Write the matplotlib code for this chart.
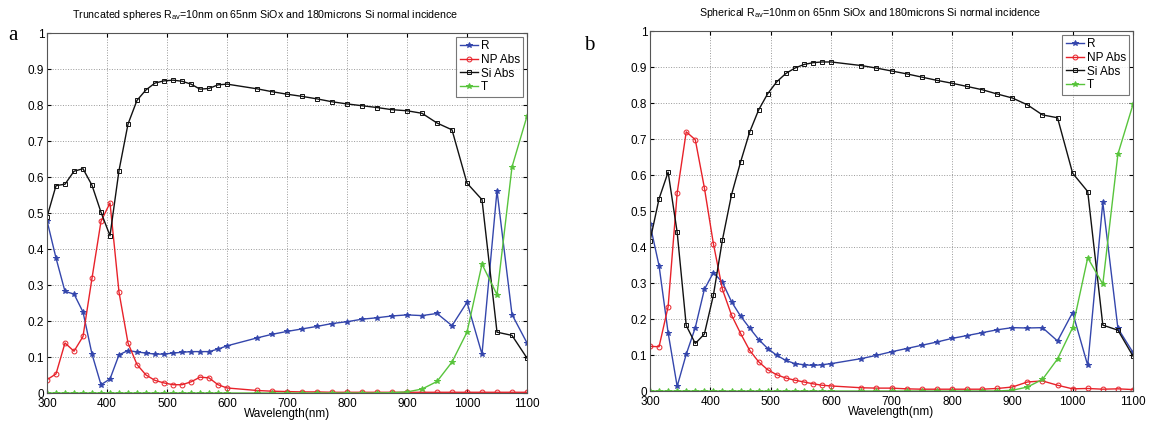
import numpy as np
import matplotlib
matplotlib.use("Agg")
import matplotlib.pyplot as plt

plt.rcParams['font.family'] = ['Liberation Sans', 'DejaVu Sans']
plt.rcParams['mathtext.default'] = 'regular'

# wavelength grid (nm): 15 nm steps up to 600, then 25 nm steps
wl = [300, 315, 330, 345, 360, 375, 390, 405, 420, 435, 450, 465, 480, 495, 510,
      525, 540, 555, 570, 585, 600, 650, 675, 700, 725, 750, 775, 800, 825, 850,
      875, 900, 925, 950, 975, 1000, 1025, 1050, 1075, 1100]

# panel a: truncated spheres
a_R = [0.479, 0.375, 0.282, 0.275, 0.225, 0.108, 0.023, 0.039, 0.106, 0.118, 0.114,
       0.111, 0.108, 0.108, 0.111, 0.113, 0.115, 0.115, 0.115, 0.122, 0.131, 0.153,
       0.163, 0.171, 0.178, 0.185, 0.193, 0.198, 0.205, 0.209, 0.214, 0.217, 0.215,
       0.221, 0.187, 0.252, 0.108, 0.562, 0.218, 0.139]
a_NP = [0.037, 0.053, 0.139, 0.116, 0.157, 0.319, 0.477, 0.528, 0.280, 0.139, 0.079,
        0.050, 0.035, 0.028, 0.023, 0.023, 0.031, 0.044, 0.042, 0.023, 0.014, 0.007,
        0.005, 0.004, 0.003, 0.003, 0.002, 0.002, 0.002, 0.002, 0.002, 0.002, 0.002,
        0.002, 0.002, 0.002, 0.002, 0.002, 0.002, 0.002]
a_Si = [0.489, 0.576, 0.580, 0.616, 0.623, 0.577, 0.502, 0.437, 0.618, 0.747, 0.813,
        0.842, 0.861, 0.867, 0.869, 0.866, 0.858, 0.844, 0.846, 0.856, 0.858, 0.845,
        0.837, 0.830, 0.824, 0.817, 0.809, 0.803, 0.798, 0.793, 0.787, 0.784, 0.777,
        0.750, 0.731, 0.583, 0.537, 0.169, 0.160, 0.097]
a_T = [0.0] * 30 + [0.001, 0.003, 0.011, 0.032, 0.086, 0.169, 0.358, 0.273, 0.628, 0.769]

# panel b: spherical
b_R = [0.463, 0.348, 0.162, 0.013, 0.102, 0.176, 0.282, 0.329, 0.302, 0.248, 0.208,
       0.175, 0.143, 0.118, 0.099, 0.085, 0.076, 0.073, 0.071, 0.073, 0.076, 0.090,
       0.099, 0.109, 0.118, 0.127, 0.136, 0.146, 0.154, 0.162, 0.170, 0.176, 0.175,
       0.176, 0.139, 0.218, 0.071, 0.524, 0.174, 0.107]
b_NP = [0.124, 0.123, 0.234, 0.550, 0.720, 0.698, 0.565, 0.409, 0.282, 0.211, 0.160,
        0.113, 0.081, 0.059, 0.045, 0.036, 0.030, 0.025, 0.020, 0.016, 0.014, 0.009,
        0.008, 0.008, 0.006, 0.005, 0.005, 0.005, 0.005, 0.005, 0.007, 0.011, 0.025,
        0.028, 0.016, 0.006, 0.007, 0.005, 0.006, 0.004]
b_Si = [0.417, 0.534, 0.608, 0.441, 0.182, 0.132, 0.158, 0.266, 0.420, 0.545, 0.636,
        0.719, 0.781, 0.826, 0.859, 0.882, 0.897, 0.907, 0.912, 0.914, 0.914, 0.904,
        0.897, 0.889, 0.881, 0.872, 0.863, 0.855, 0.846, 0.837, 0.825, 0.814, 0.795,
        0.767, 0.759, 0.605, 0.554, 0.183, 0.169, 0.097]
b_T = [0.0] * 31 + [0.002, 0.011, 0.032, 0.089, 0.176, 0.370, 0.297, 0.658, 0.796]

titles = [r'Truncated spheres R$_{av}$=10nm on 65nm SiOx and 180microns Si normal incidence',
          r'Spherical R$_{av}$=10nm on 65nm SiOx and 180microns Si normal incidence']
labels = ['R', 'NP Abs', 'Si Abs', 'T']
colors = ['#3446ac', '#e8222a', '#111111', '#58c43c']
markers = ['*', 'o', 's', '*']


def panel(ax, series, title):
    for y, lab, c, m in zip(series, labels, colors, markers):
        face = c if m == '*' else 'none'
        ax.plot(wl, y, color=c, marker=m, markersize=3.5 if m != '*' else 4,
                markerfacecolor=face, markeredgewidth=0.7, linewidth=1.0, label=lab)
    ax.set_xlim(300, 1100)
    ax.set_ylim(0, 1)
    ax.set_xticks(range(300, 1101, 100))
    ax.set_yticks(np.arange(0, 1.01, 0.1))
    ax.set_yticklabels(['0'] + ['%.1f' % v for v in np.arange(0.1, 0.95, 0.1)] + ['1'])
    ax.grid(True, linestyle=':', color='#999999', linewidth=0.7)
    ax.tick_params(direction='in', top=True, right=True, labelsize=8.5, length=3, pad=2)
    ax.tick_params(axis='x', pad=3.5)
    for s in ax.spines.values():
        s.set_color('#555555')
        s.set_linewidth(0.8)
    # matlab put the title a bit left of centre
    ax.set_title(title, fontsize=7.7, pad=11, x=0.455)
    ax.set_xlabel('Wavelength(nm)', fontsize=8.5, labelpad=-1)
    leg = ax.legend(loc='upper right', fontsize=8.5, handlelength=1.6, borderpad=0.3,
                    labelspacing=0.15, handletextpad=0.2, fancybox=False,
                    borderaxespad=0.3)
    leg.get_frame().set_edgecolor('#555555')
    leg.get_frame().set_linewidth(0.8)


fig = plt.figure(figsize=(11.51, 4.23), dpi=100)
ax1 = fig.add_axes([47 / 1151, 30 / 423, 480 / 1151, 360 / 423])
ax2 = fig.add_axes([650 / 1151, 32 / 423, 483 / 1151, 360 / 423])
panel(ax1, [a_R, a_NP, a_Si, a_T], titles[0])
panel(ax2, [b_R, b_NP, b_Si, b_T], titles[1])
fig.text(8 / 1151, 1 - 35 / 423, 'a', fontsize=15, family='Liberation Serif', va='center')
fig.text(584 / 1151, 1 - 45 / 423, 'b', fontsize=15, family='Liberation Serif', va='center')
fig.savefig('out.png', dpi=100)
